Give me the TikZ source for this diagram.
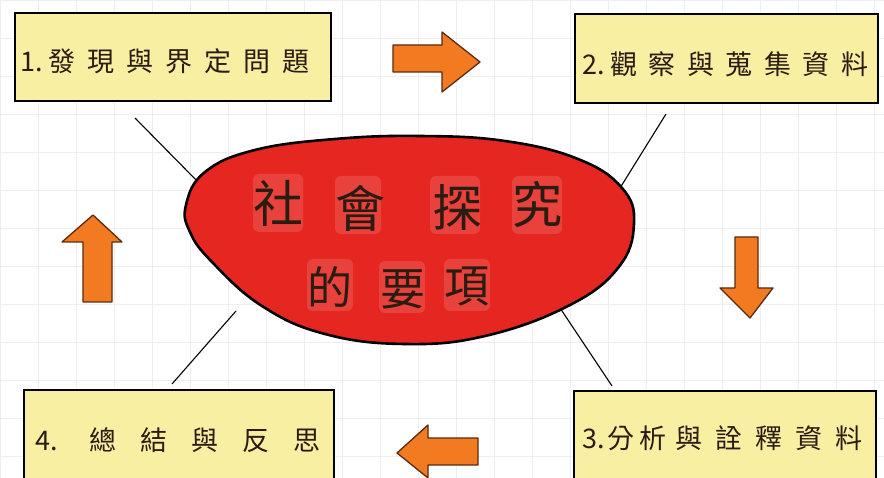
\documentclass[tikz,border=0pt]{standalone}
\usepackage{fontspec}
\newfontfamily\cjk{Noto Sans CJK TC}
\newcommand\chw[2]{\makebox[#1][c]{#2}}
\definecolor{paper}{HTML}{FFFFFF}
\definecolor{gridc}{HTML}{EBEFF2}
\definecolor{boxfill}{HTML}{F9EFA3}
\definecolor{redfill}{HTML}{E62620}
\definecolor{arrowfill}{HTML}{F27B22}
\definecolor{arrowline}{HTML}{5A2A10}
\definecolor{ink}{HTML}{2B1C12}
\tikzset{
  stepbox/.style={draw=black, line width=1.8pt, fill=boxfill, inner sep=0pt},
  boxtext/.style={font=\cjk\fontsize{27}{27}\selectfont, text=ink, inner sep=0pt},
  bigchar/.style={font=\cjk\fontsize{50}{50}\selectfont, text=ink, inner sep=0pt},
  midchar/.style={font=\cjk\fontsize{45}{45}\selectfont, text=ink, inner sep=0pt},
  patch/.style={fill=white, opacity=0.13, rounded corners=6pt, inner sep=0pt},
  spoke/.style={draw=black, line width=1.1pt},
  fatarrow/.style={draw=arrowline, line width=1.3pt, fill=arrowfill, line join=round}
}
\begin{document}
\begin{tikzpicture}[x=1pt,y=-1pt]
\useasboundingbox (0,0) rectangle (884,478);
\fill[paper] (0,0) rectangle (884,478);
\draw[gridc, line width=0.6pt, step=38pt] (0,0) grid (884,478);

% boxes
\node[stepbox, minimum width=316pt, minimum height=88pt, anchor=north west] (b1) at (14,12) {};
\node[stepbox, minimum width=303pt, minimum height=89pt, anchor=north west] (b2) at (574,13) {};
\node[stepbox, minimum width=302pt, minimum height=92pt, anchor=north west] (b3) at (573,390) {};
\node[stepbox, minimum width=310pt, minimum height=92pt, anchor=north west] (b4) at (23,389) {};

\node[boxtext, anchor=west] (t1) at (20,61) {1.\chw{39pt}{發}\chw{39pt}{現}\chw{39pt}{與}\chw{39pt}{界}\chw{39pt}{定}\chw{39pt}{問}\chw{39pt}{題}};
\node[boxtext, anchor=west] (t2) at (582,64) {2.\chw{38.5pt}{觀}\chw{38.5pt}{察}\chw{38.5pt}{與}\chw{38.5pt}{蒐}\chw{38.5pt}{集}\chw{38.5pt}{資}\chw{38.5pt}{料}};
\node[boxtext, anchor=west] (t3) at (582,438) {3.\chw{32pt}{分}\chw{32pt}{析}\chw{40pt}{與}\chw{40pt}{詮}\chw{40pt}{釋}\chw{40pt}{資}\chw{40pt}{料}};
\node[boxtext, anchor=west] (t4) at (35,440) {4.\hspace{20pt}\chw{51pt}{總}\chw{51pt}{結}\chw{51pt}{與}\chw{51pt}{反}\chw{51pt}{思}};

% spokes
\coordinate (s1a) at (135,118); \coordinate (s1b) at (200,184);
\coordinate (s2a) at (666,114); \coordinate (s2b) at (620,188);
\coordinate (s3a) at (560,308); \coordinate (s3b) at (612,386);
\coordinate (s4a) at (236,311); \coordinate (s4b) at (172,384);
\draw[spoke] (s1a) -- (s1b);
\draw[spoke] (s2a) -- (s2b);
\draw[spoke] (s3a) -- (s3b);
\draw[spoke] (s4a) -- (s4b);

% central shape
\draw[line width=2.6pt, fill=redfill, draw=black]
  plot[smooth cycle, tension=0.7] coordinates {
  (186,205) (205,172) (255,150) (335,139) (420,136) (505,141) (578,159)
  (622,188) (634,224) (618,268) (568,306) (485,336) (405,344) (325,334)
  (262,306) (212,262) (190,232)};

% light patches behind characters
\node[patch, minimum width=50pt, minimum height=58pt] (p1) at (278,203) {};
\node[patch, minimum width=46pt, minimum height=58pt] (p2) at (358,205) {};
\node[patch, minimum width=50pt, minimum height=58pt] (p3) at (455,205) {};
\node[patch, minimum width=50pt, minimum height=58pt] (p4) at (537,205) {};
\node[patch, minimum width=46pt, minimum height=52pt] (p5) at (330,285) {};
\node[patch, minimum width=46pt, minimum height=52pt] (p6) at (402,287) {};
\node[patch, minimum width=46pt, minimum height=52pt] (p7) at (467,285) {};

\node[bigchar] (c1) at (278,203) {社};
\node[bigchar] (c2) at (360,208) {會};
\node[bigchar] (c3) at (457,208) {探};
\node[bigchar] (c4) at (537,205) {究};
\node[midchar] (c5) at (330,287) {的};
\node[midchar] (c6) at (403,289) {要};
\node[midchar] (c7) at (467,287) {項};

% arrows
\draw[fatarrow] (393,45) -- (442,45) -- (442,32) -- (480,62) -- (442,92) -- (442,72) -- (393,72) -- cycle;
\draw[fatarrow] (735,237) -- (758,237) -- (758,288) -- (773,288) -- (750,318) -- (720,288) -- (735,288) -- cycle;
\draw[fatarrow] (478,438) -- (428,438) -- (428,425) -- (397,453) -- (428,478) -- (428,465) -- (478,465) -- cycle;
\draw[fatarrow] (83,302) -- (83,242) -- (62,242) -- (93,215) -- (122,242) -- (112,242) -- (112,302) -- cycle;
\end{tikzpicture}
\end{document}
